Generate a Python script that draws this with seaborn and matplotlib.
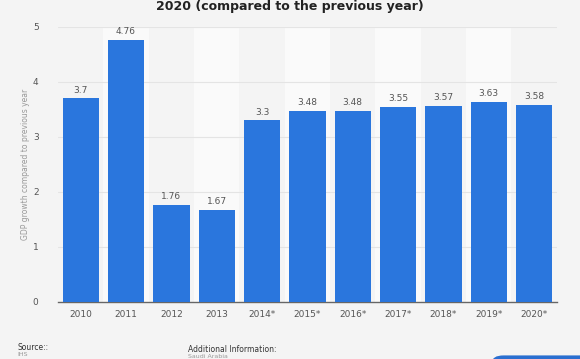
import pandas as pd
import seaborn as sns
import matplotlib.pyplot as plt
from matplotlib.patches import FancyBboxPatch

years = ["2010", "2011", "2012", "2013", "2014*", "2015*", "2016*",
         "2017*", "2018*", "2019*", "2020*"]
growth = [3.7, 4.76, 1.76, 1.67, 3.3, 3.48, 3.48, 3.55, 3.57, 3.63, 3.58]
value_labels = ["3.7", "4.76", "1.76", "1.67", "3.3", "3.48", "3.48",
                "3.55", "3.57", "3.63", "3.58"]
y_ticks = [0, 1, 2, 3, 4, 5]

df = pd.DataFrame({"year": years, "growth": growth})

sns.set_style("white")
plt.rcParams["font.family"] = ["DejaVu Sans"]

bg = "#f4f4f4"
fig = plt.figure(figsize=(5.8, 3.59), dpi=100, facecolor=bg)
ax = fig.add_axes([0.1, 0.159, 0.86, 0.766])
ax.set_facecolor(bg)

# alternating column shading
for i in range(len(years)):
    if i % 2 == 1:
        ax.axvspan(i - 0.5, i + 0.5, color="#fafafa", zorder=0, lw=0)

for t in y_ticks[1:]:
    ax.axhline(t, color="#e4e4e4", lw=0.8, zorder=1)

sns.barplot(data=df, x="year", y="growth", color="#2a76dd", saturation=1,
            width=0.8, linewidth=0, ax=ax, zorder=3)

for i, (v, lab) in enumerate(zip(growth, value_labels)):
    ax.text(i, v + 0.07, lab, ha="center", va="bottom", fontsize=6.5,
            color="#555555", zorder=4)

ax.set_xlim(-0.5, len(years) - 0.5)
ax.set_ylim(0, 5)
ax.set_yticks(y_ticks)
ax.tick_params(axis="both", length=0, labelsize=6.5, labelcolor="#555555")
ax.tick_params(axis="y", pad=14)
ax.tick_params(axis="x", pad=6)
ax.set_xlabel("")
ax.set_ylabel("GDP growth compared to previous year", fontsize=5.5,
              color="#999999", labelpad=2)
for s in ["top", "right", "left"]:
    ax.spines[s].set_visible(False)
ax.spines["bottom"].set_color("#666666")
ax.spines["bottom"].set_linewidth(1)

fig.text(0.5, 0.982, "2020 (compared to the previous year)", ha="center",
         va="center", fontsize=9, fontweight="bold", color="#222222")

fig.text(17 / 580, 1 - 348 / 359, "Source::", fontsize=5.5, color="#333333",
         va="center")
fig.text(17 / 580, 1 - 355 / 359, "IHS", fontsize=4.5, color="#999999",
         va="center")
fig.text(188 / 580, 1 - 350 / 359, "Additional Information:", fontsize=5.5,
         color="#333333", va="center")
fig.text(188 / 580, 1 - 356.5 / 359, "Saudi Arabia", fontsize=4.5,
         color="#999999", va="center")

button = FancyBboxPatch((492 / 580, -0.02), 0.2, 0.03,
                        boxstyle="round,pad=0,rounding_size=0.02",
                        transform=fig.transFigure, color="#2a6fd0", lw=0)
fig.patches.append(button)

fig.savefig("out.png", dpi=100, facecolor=bg)
